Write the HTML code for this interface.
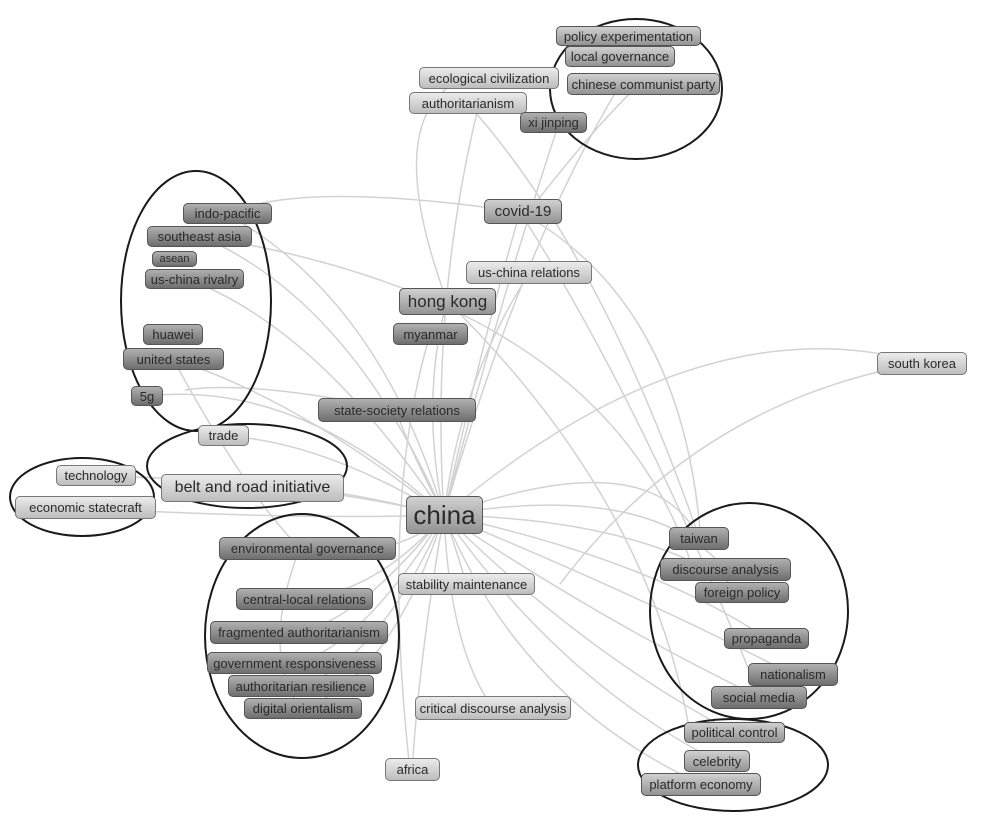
<!DOCTYPE html>
<html><head><meta charset="utf-8"><style>
body{margin:0;background:#fff;}
#c{position:relative;width:981px;height:819px;overflow:hidden;font-family:"Liberation Sans","DejaVu Sans",sans-serif;}
.n{position:absolute;box-sizing:border-box;border:1px solid #555;border-radius:5px;color:#2a2a2a;font-size:13px;display:flex;align-items:center;justify-content:center;white-space:nowrap;}
.d{background:linear-gradient(#b0b0b0,#6e6e6e);}
.m{background:linear-gradient(#d0d0d0,#939393);}
.l{background:linear-gradient(#ebebeb,#bdbdbd);border-color:#777;}
svg{position:absolute;left:0;top:0;}
</style></head><body><div id="c">
<svg width="981" height="819">
<g fill="none" stroke="#d2d2d2" stroke-width="1.5">
<path d="M444 515 Q430 300 480 100"/><path d="M444 515 Q500 300 560 120"/><path d="M444 515 Q520 250 620 85"/>
<path d="M444 515 Q480 350 520 212"/><path d="M444 515 Q460 380 530 272"/><path d="M444 515 Q420 400 447 301"/>
<path d="M444 515 Q380 300 227 214"/><path d="M444 515 Q350 300 200 236"/><path d="M444 515 Q320 330 190 280"/>
<path d="M444 515 Q300 400 173 359"/><path d="M444 515 Q300 380 147 396"/><path d="M444 515 Q400 430 397 410"/>
<path d="M444 515 Q320 440 223 436"/><path d="M444 515 Q300 480 96 476"/><path d="M444 515 Q300 520 85 508"/>
<path d="M444 515 Q700 300 922 363"/><path d="M444 515 Q650 440 699 538"/><path d="M444 515 Q650 480 725 569"/>
<path d="M444 515 Q650 520 742 592"/><path d="M444 515 Q650 560 766 638"/><path d="M444 515 Q650 600 793 675"/>
<path d="M444 515 Q600 620 759 697"/><path d="M444 515 Q580 650 734 733"/><path d="M444 515 Q560 680 717 761"/>
<path d="M444 515 Q520 700 701 784"/><path d="M444 515 Q450 650 493 708"/><path d="M444 515 Q420 650 412 770"/>
<path d="M444 515 Q400 560 307 548"/><path d="M444 515 Q380 590 304 599"/><path d="M444 515 Q360 620 299 632"/>
<path d="M444 515 Q360 650 294 663"/><path d="M444 515 Q380 660 301 686"/><path d="M444 515 Q390 680 303 708"/>
<path d="M444 515 Q460 560 466 584"/><path d="M444 515 Q300 480 252 488"/>
<path d="M520 212 Q680 300 700 530"/><path d="M520 212 Q640 400 760 697"/><path d="M520 212 Q300 180 227 214"/>
<path d="M447 301 Q380 120 460 80"/><path d="M447 301 Q650 500 690 733"/><path d="M430 335 Q380 500 410 770"/>
<path d="M467 103 Q600 250 700 540"/><path d="M530 210 Q600 120 640 84"/><path d="M185 390 Q250 380 397 410"/>
<path d="M173 359 Q250 500 300 548"/><path d="M200 236 Q600 300 690 560"/><path d="M300 548 Q260 650 300 708"/>
<path d="M922 363 Q700 400 560 584"/>
</g>
<g fill="none" stroke="#1a1a1a" stroke-width="2">
<ellipse cx="636" cy="89" rx="86" ry="70"/><ellipse cx="196" cy="301" rx="75" ry="130"/>
<ellipse cx="247" cy="466" rx="100" ry="42"/><ellipse cx="82" cy="497" rx="72" ry="39"/>
<ellipse cx="302" cy="636" rx="97" ry="122"/><ellipse cx="749" cy="611" rx="99" ry="108"/>
<ellipse cx="733" cy="765" rx="95" ry="46"/>
</g></svg>
<div class="n m" style="left:556px;top:26px;width:145px;height:20px">policy experimentation</div>
<div class="n m" style="left:565px;top:46px;width:110px;height:21px">local governance</div>
<div class="n l" style="left:419px;top:67px;width:140px;height:22px">ecological civilization</div>
<div class="n m" style="left:567px;top:73px;width:153px;height:22px">chinese communist party</div>
<div class="n l" style="left:409px;top:92px;width:118px;height:22px">authoritarianism</div>
<div class="n d" style="left:520px;top:112px;width:67px;height:21px">xi jinping</div>
<div class="n m" style="left:484px;top:199px;width:78px;height:25px;font-size:15px">covid-19</div>
<div class="n d" style="left:183px;top:203px;width:89px;height:21px">indo-pacific</div>
<div class="n d" style="left:147px;top:226px;width:105px;height:21px">southeast asia</div>
<div class="n d" style="left:152px;top:251px;width:45px;height:16px;font-size:11px">asean</div>
<div class="n d" style="left:145px;top:269px;width:99px;height:20px">us-china rivalry</div>
<div class="n l" style="left:466px;top:261px;width:126px;height:23px">us-china relations</div>
<div class="n m" style="left:399px;top:288px;width:97px;height:27px;font-size:17px">hong kong</div>
<div class="n d" style="left:143px;top:324px;width:60px;height:21px">huawei</div>
<div class="n d" style="left:393px;top:323px;width:75px;height:22px">myanmar</div>
<div class="n d" style="left:123px;top:348px;width:101px;height:22px">united states</div>
<div class="n l" style="left:877px;top:352px;width:90px;height:23px">south korea</div>
<div class="n d" style="left:131px;top:386px;width:32px;height:20px">5g</div>
<div class="n d" style="left:318px;top:398px;width:158px;height:24px">state-society relations</div>
<div class="n l" style="left:198px;top:425px;width:51px;height:21px">trade</div>
<div class="n l" style="left:56px;top:465px;width:80px;height:21px">technology</div>
<div class="n l" style="left:161px;top:474px;width:183px;height:28px;font-size:16px">belt and road initiative</div>
<div class="n l" style="left:15px;top:496px;width:141px;height:23px">economic statecraft</div>
<div class="n m" style="left:406px;top:496px;width:77px;height:38px;font-size:26px">china</div>
<div class="n d" style="left:669px;top:527px;width:60px;height:23px">taiwan</div>
<div class="n d" style="left:219px;top:537px;width:177px;height:23px">environmental governance</div>
<div class="n d" style="left:660px;top:558px;width:131px;height:23px">discourse analysis</div>
<div class="n l" style="left:398px;top:573px;width:137px;height:22px">stability maintenance</div>
<div class="n d" style="left:695px;top:582px;width:94px;height:21px">foreign policy</div>
<div class="n d" style="left:236px;top:588px;width:137px;height:22px">central-local relations</div>
<div class="n d" style="left:210px;top:621px;width:178px;height:23px">fragmented authoritarianism</div>
<div class="n d" style="left:724px;top:628px;width:85px;height:21px">propaganda</div>
<div class="n d" style="left:207px;top:652px;width:175px;height:22px">government responsiveness</div>
<div class="n d" style="left:748px;top:663px;width:90px;height:23px">nationalism</div>
<div class="n d" style="left:228px;top:675px;width:146px;height:22px">authoritarian resilience</div>
<div class="n d" style="left:711px;top:686px;width:96px;height:23px">social media</div>
<div class="n l" style="left:415px;top:696px;width:156px;height:24px">critical discourse analysis</div>
<div class="n d" style="left:244px;top:698px;width:118px;height:21px">digital orientalism</div>
<div class="n m" style="left:684px;top:722px;width:101px;height:21px">political control</div>
<div class="n m" style="left:684px;top:750px;width:66px;height:22px">celebrity</div>
<div class="n l" style="left:385px;top:758px;width:55px;height:23px">africa</div>
<div class="n m" style="left:641px;top:773px;width:120px;height:23px">platform economy</div>
</div></body></html>
